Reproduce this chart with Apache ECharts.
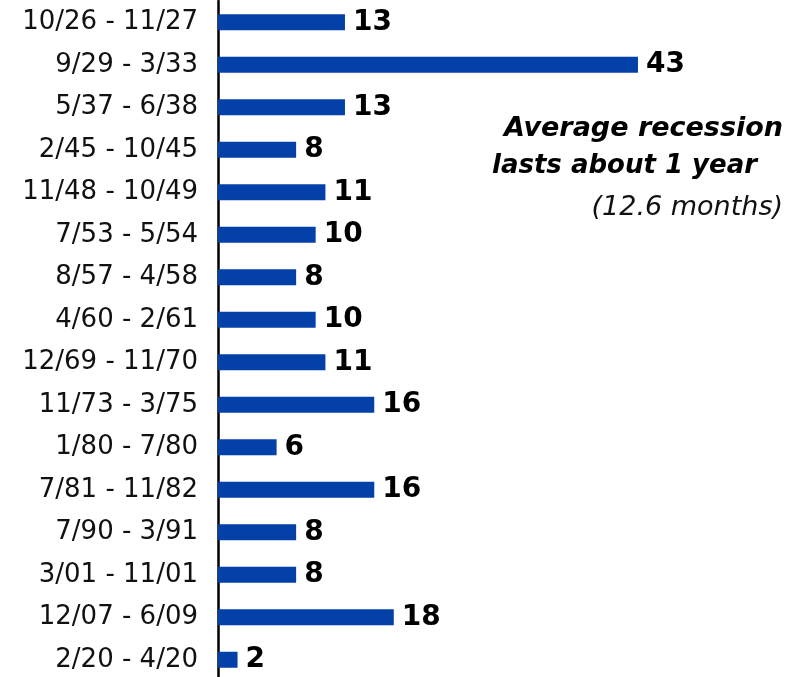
<!DOCTYPE html>
<html><head><meta charset="utf-8">
<script src="https://cdn.jsdelivr.net/npm/echarts@6/dist/echarts.min.js"></script>
<style>html,body{margin:0;padding:0;background:#fff;overflow:hidden}#c{width:806px;height:681px}</style>
</head><body><div id="c"></div>
<script>
const categories = ["10/26 - 11/27","9/29 - 3/33","5/37 - 6/38","2/45 - 10/45","11/48 - 10/49","7/53 - 5/54","8/57 - 4/58","4/60 - 2/61","12/69 - 11/70","11/73 - 3/75","1/80 - 7/80","7/81 - 11/82","7/90 - 3/91","3/01 - 11/01","12/07 - 6/09","2/20 - 4/20"];
const months = [13,43,13,8,11,10,8,10,11,16,6,16,8,8,18,2];
const noteLines = ["Average recession","lasts about 1 year","(12.6 months)"];

const chart = echarts.init(document.getElementById('c'), null, {renderer:'canvas'});
const FONT = 'DejaVu Sans';
chart.setOption({
  animation:false,
  grid:{left:218, right:2, top:1, bottom:0, containLabel:false},
  xAxis:{type:'value', min:0, max:60, show:false},
  yAxis:{type:'category', data:categories, inverse:true,
    axisLine:{show:true, lineStyle:{color:'#000', width:2.5}},
    axisTick:{show:false},
    axisLabel:{margin:20, fontFamily:FONT, fontSize:26, color:'#111'}},
  series:[{type:'bar', data:months, barWidth:16,
    itemStyle:{color:'#0341a8'},
    label:{show:true, position:'right', distance:8, fontFamily:FONT, fontWeight:'bold', fontSize:28, color:'#000'}}],
  graphic:[
    {type:'text', right:23, top:115, style:{text:noteLines[0], fontFamily:FONT, fontWeight:'bold', fontStyle:'italic', fontSize:27, fill:'#000', textAlign:'right'}},
    {type:'text', right:49, top:153, style:{text:noteLines[1], fontFamily:FONT, fontWeight:'bold', fontStyle:'italic', fontSize:26, fill:'#000', textAlign:'right'}},
    {type:'text', right:23, top:194, style:{text:noteLines[2], fontFamily:FONT, fontStyle:'italic', fontSize:27, fill:'#111', textAlign:'right'}}
  ]
});
</script></body></html>
